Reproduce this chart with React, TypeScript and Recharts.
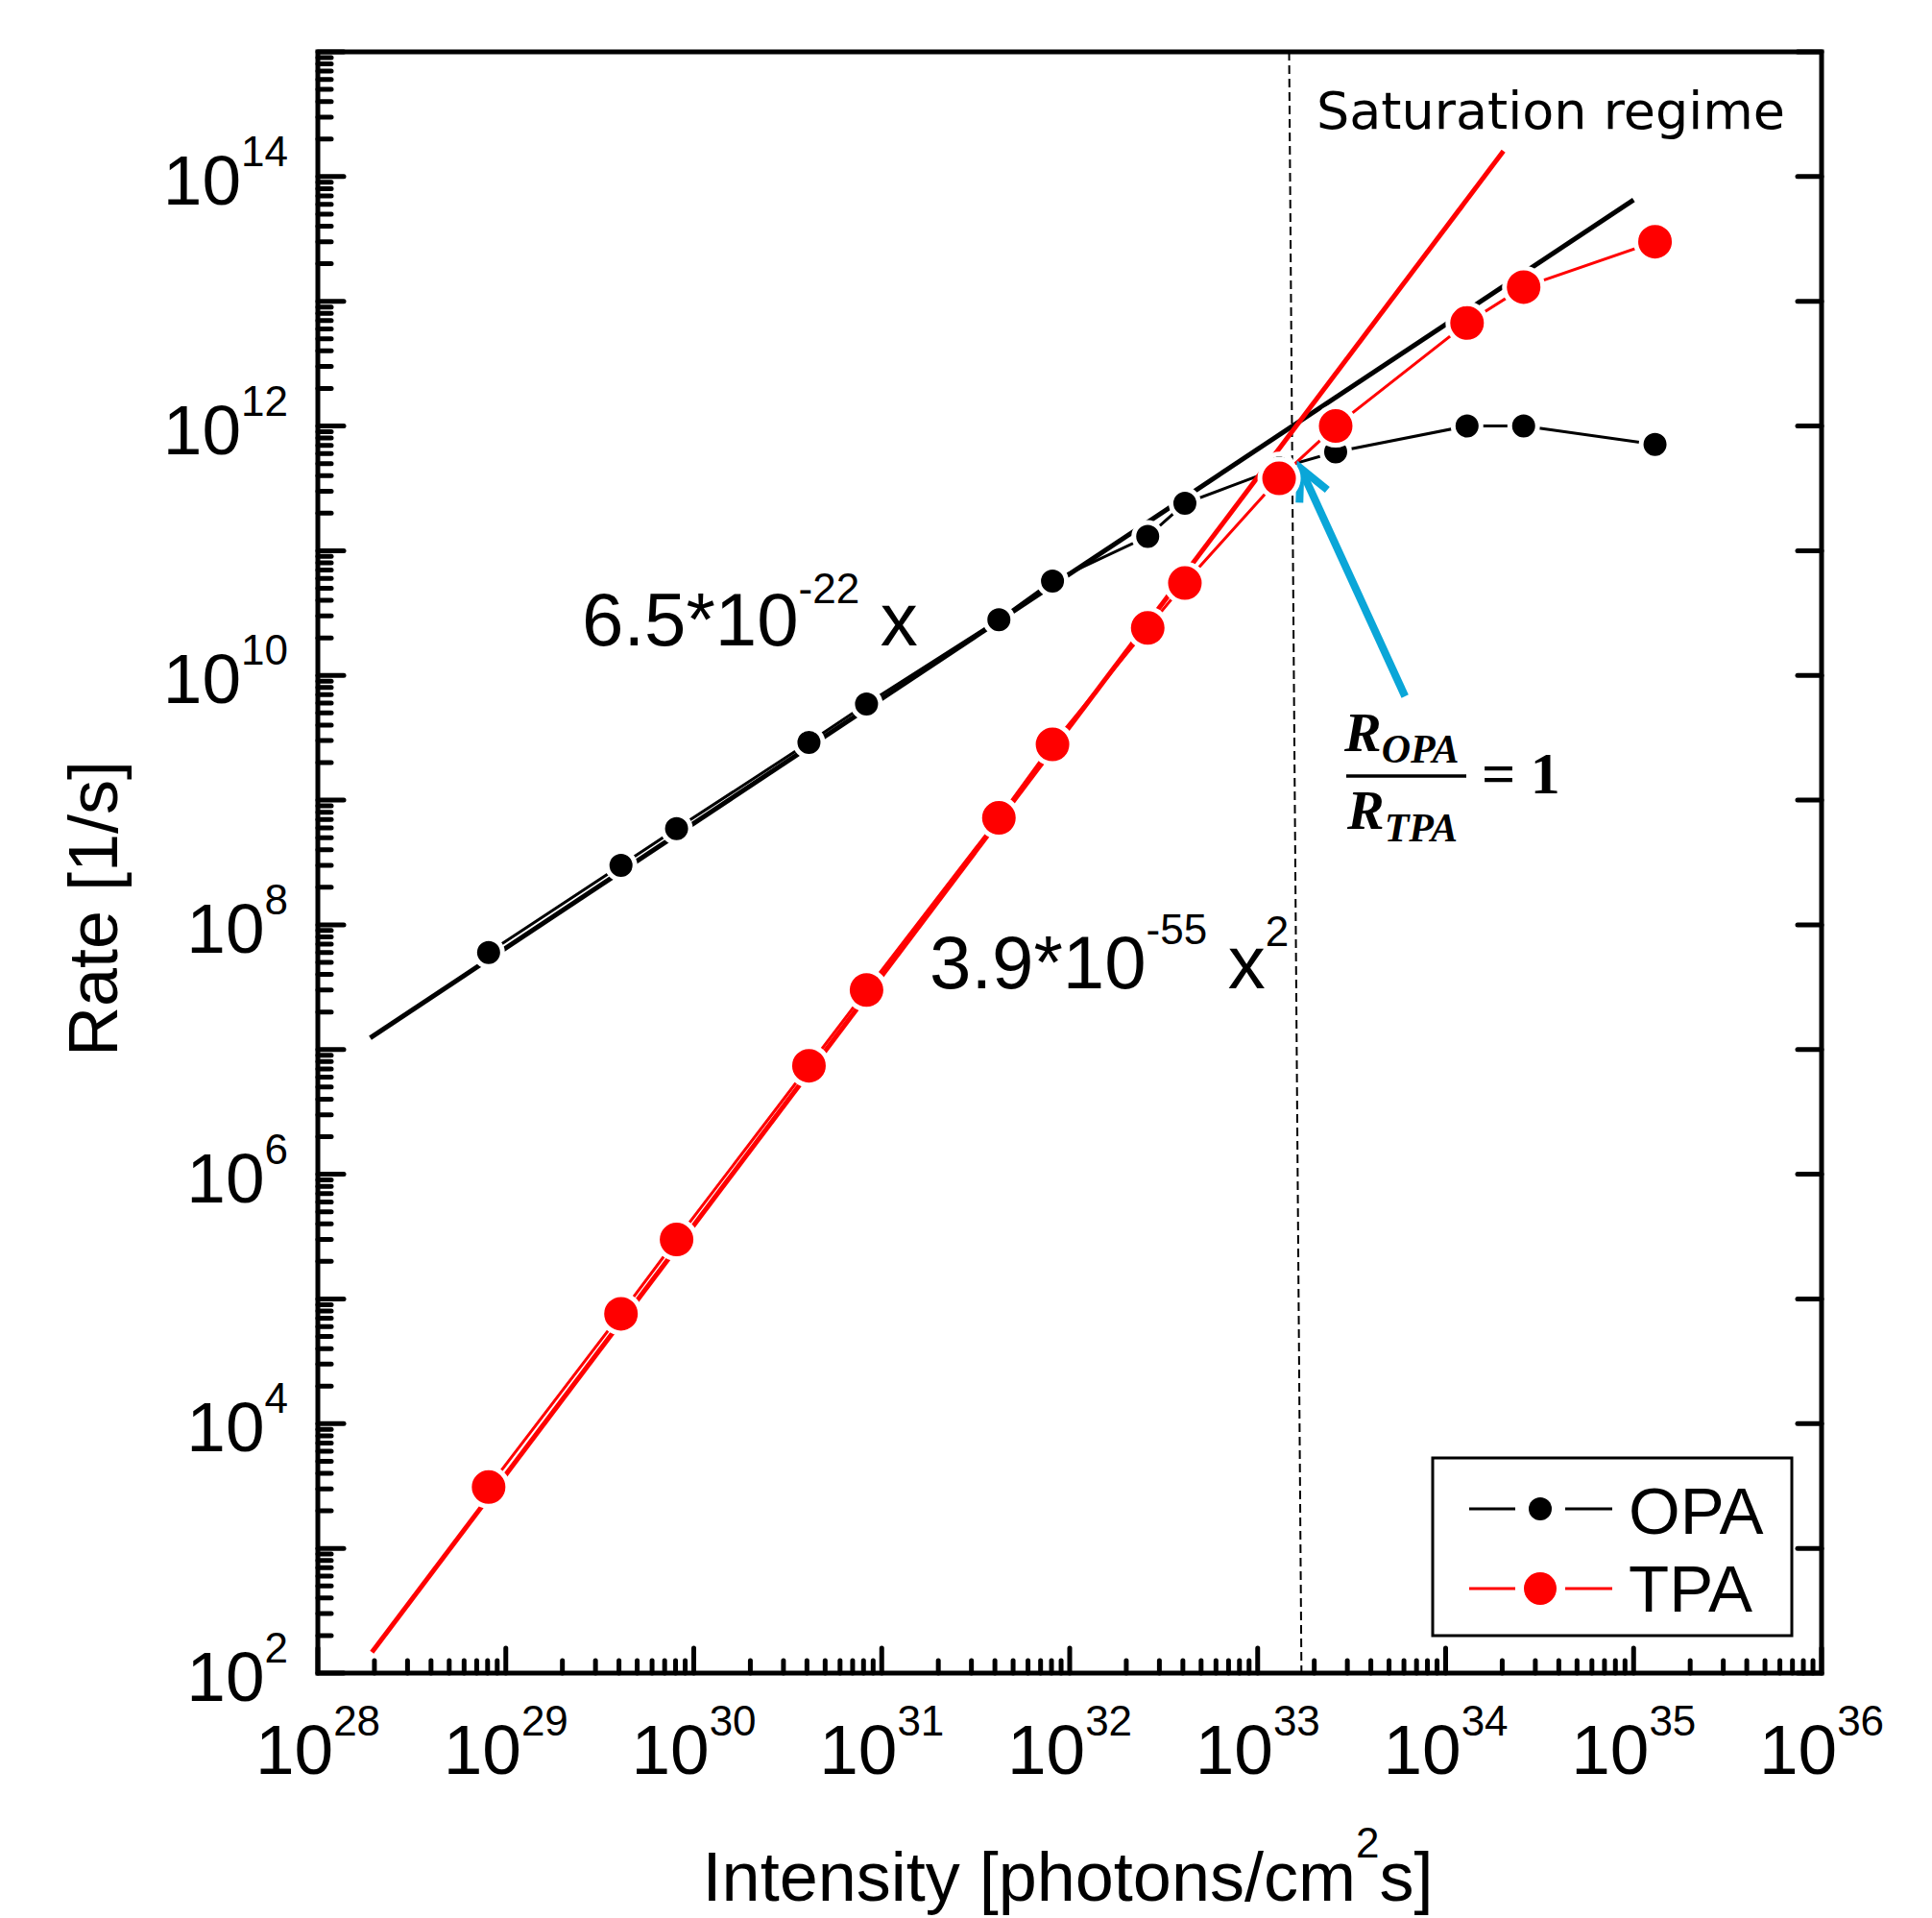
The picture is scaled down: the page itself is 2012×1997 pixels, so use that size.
import React from 'react';
import { ComposedChart, Line, XAxis, YAxis, ReferenceLine, ReferenceArea } from 'recharts';

// intensity [photons/cm^2 s] and rates [1/s]
const intensity = [8.1e28, 4.1e29, 8.1e29, 4.1e30, 8.3e30, 4.2e31, 8.1e31, 2.6e32, 4.1e32, 1.3e33, 2.6e33, 1.3e34, 2.6e34, 1.3e35];
const opaRate = [6.0e7, 3.0e8, 5.9e8, 2.9e9, 5.9e9, 2.8e10, 5.7e10, 1.3e11, 2.4e11, 4.6e11, 6.2e11, 1.0e12, 1.0e12, 7.1e11];
const tpaRate = [3.1e3, 7.6e4, 3.0e5, 7.4e6, 3.0e7, 7.2e8, 2.8e9, 2.4e10, 5.5e10, 3.8e11, 1.0e12, 6.7e12, 1.3e13, 3.0e13];

// fitted power laws (end points of the drawn lines)
const opaFitX = [1.9e28, 1.0e35];
const opaFitRate = [1.24e7, 6.5e13];
const tpaFitX = [1.94e28, 2.03e34];
const tpaFitRate = [1.47e2, 1.6e14];

// saturation boundary (dashed) and the R_OPA/R_TPA = 1 arrow
const saturationTop = { x: 1.47e33, y: 1e15 };
const saturationBottom = { x: 1.71e33, y: 1e2 };
const arrowTail = { x: 6.08e33, y: 6.8e9 };
const arrowTip = { x: 1.69e33, y: 4.6e11 };

const xMajor = [1e28, 1e29, 1e30, 1e31, 1e32, 1e33, 1e34, 1e35, 1e36];
const yMajor = [1e2, 1e3, 1e4, 1e5, 1e6, 1e7, 1e8, 1e9, 1e10, 1e11, 1e12, 1e13, 1e14, 1e15];
const yLabelled = [1e2, 1e4, 1e6, 1e8, 1e10, 1e12, 1e14];
const minorSteps = [2, 3, 4, 5, 6, 7, 8, 9];

const withMinor = (majors: number[]) =>
  [...majors, ...majors.slice(0, -1).flatMap((d) => minorSteps.map((m) => m * d))].sort((a, b) => a - b);

const xTicks = withMinor(xMajor);
const yTicks = withMinor(yMajor);

const opaData = intensity.map((x, i) => ({ x, y: opaRate[i] }));
const tpaData = intensity.map((x, i) => ({ x, y: tpaRate[i] }));
const opaFit = opaFitX.map((x, i) => ({ x, y: opaFitRate[i] }));
const tpaFit = tpaFitX.map((x, i) => ({ x, y: tpaFitRate[i] }));

const SANS = '"Liberation Sans", Arial, sans-serif';
const SERIF = '"Liberation Serif", "Times New Roman", serif';
const CYAN = '#0aa6d8';

const expOf = (v: number) => Math.round(Math.log10(v));

function BottomTick(props: any) {
  const { x, y, payload } = props;
  const v = payload.value;
  const major = xMajor.includes(v);
  return (
    <g>
      <line x1={x} x2={x} y1={y} y2={y - (major ? 26 : 13)} stroke="#000" strokeWidth={5} strokeLinecap="round" />
      {major && (
        <text x={x} y={y + 105} textAnchor="middle" fontFamily={SANS} fill="#000">
          <tspan fontSize={73}>10</tspan>
          <tspan fontSize={44} dy={-40}>{expOf(v)}</tspan>
        </text>
      )}
    </g>
  );
}

function LeftTick(props: any) {
  const { x, y, payload } = props;
  const v = payload.value;
  const major = yMajor.includes(v);
  return (
    <g>
      <line x1={x} x2={x + (major ? 27 : 14)} y1={y} y2={y} stroke="#000" strokeWidth={5} strokeLinecap="round" />
      {yLabelled.includes(v) && (
        <text x={x - 31} y={y + 29} textAnchor="end" fontFamily={SANS} fill="#000">
          <tspan fontSize={73}>10</tspan>
          <tspan fontSize={44} dy={-40}>{expOf(v)}</tspan>
        </text>
      )}
    </g>
  );
}

function TopTick(props: any) {
  const { x, y } = props;
  return <line x1={x} x2={x} y1={y} y2={y + 28} stroke="#000" strokeWidth={5} strokeLinecap="round" />;
}

function RightTick(props: any) {
  const { x, y } = props;
  return <line x1={x} x2={x - 25} y1={y} y2={y} stroke="#000" strokeWidth={5} strokeLinecap="round" />;
}

function ArrowShape(props: any) {
  const { x1, y1, x2, y2 } = props;
  const ang = Math.atan2(y1 - y2, x1 - x2);
  const len = 36;
  const spread = 0.46;
  const a = [x2 + len * Math.cos(ang - spread), y2 + len * Math.sin(ang - spread)];
  const b = [x2 + len * Math.cos(ang + spread), y2 + len * Math.sin(ang + spread)];
  return (
    <g>
      <line x1={x1} y1={y1} x2={x2} y2={y2} stroke={CYAN} strokeWidth={8} />
      <polyline
        points={`${a[0]},${a[1]} ${x2},${y2} ${b[0]},${b[1]}`}
        fill="none"
        stroke={CYAN}
        strokeWidth={8}
        strokeLinejoin="miter"
      />
    </g>
  );
}

function Annotations() {
  return (
    <svg width={2012} height={1997} style={{ position: 'absolute', left: 0, top: 0, pointerEvents: 'none' }}>
      <text x={1371} y={134} fontFamily='"DejaVu Sans", Verdana, sans-serif' fontSize={54} fill="#000">
        Saturation regime
      </text>

      <text x={606} y={672} fontFamily={SANS} fontSize={78} fill="#000">
        6.5*10
        <tspan fontSize={44} dy={-44}>-22</tspan>
        <tspan dy={44}> x</tspan>
      </text>

      <text x={968} y={1029} fontFamily={SANS} fontSize={78} fill="#000">
        3.9*10
        <tspan fontSize={44} dy={-46}>-55</tspan>
        <tspan dy={46}> x</tspan>
        <tspan fontSize={44} dy={-44}>2</tspan>
      </text>

      <g fontFamily={SERIF} fill="#000" fontWeight="bold">
        <text x={1400} y={782} fontStyle="italic" fontSize={58}>
          R<tspan fontSize={42} dy={12}>OPA</tspan>
        </text>
        <line x1={1402} x2={1527} y1={808} y2={808} stroke="#000" strokeWidth={3.5} />
        <text x={1403} y={863} fontStyle="italic" fontSize={58}>
          R<tspan fontSize={42} dy={13}>TPA</tspan>
        </text>
        <text x={1543} y={826} fontSize={62}>
          = 1
        </text>
      </g>

      <g>
        <rect x={1492} y={1518} width={374} height={185} fill="#fff" stroke="#000" strokeWidth={3} />
        <line x1={1530} x2={1578} y1={1571} y2={1571} stroke="#000" strokeWidth={3} />
        <line x1={1630} x2={1679} y1={1571} y2={1571} stroke="#000" strokeWidth={3} />
        <circle cx={1604} cy={1571} r={12} fill="#000" />
        <text x={1696} y={1597} fontFamily={SANS} fontSize={69} fill="#000">OPA</text>
        <line x1={1530} x2={1578} y1={1654} y2={1654} stroke="#ff0000" strokeWidth={3} />
        <line x1={1630} x2={1679} y1={1654} y2={1654} stroke="#ff0000" strokeWidth={3} />
        <circle cx={1604} cy={1654} r={17} fill="#ff0000" />
        <text x={1696} y={1678} fontFamily={SANS} fontSize={69} fill="#000">TPA</text>
      </g>

      <text
        x={122}
        y={946}
        transform="rotate(-90 122 946)"
        textAnchor="middle"
        fontFamily={SANS}
        fontSize={72}
        fill="#000"
      >
        Rate [1/s]
      </text>
      <text x={1112} y={1979} textAnchor="middle" fontFamily={SANS} fontSize={72} fill="#000">
        Intensity [photons/cm<tspan fontSize={44} dy={-45}>2</tspan>
        <tspan dy={45}>s]</tspan>
      </text>
    </svg>
  );
}

export default function App() {
  return (
    <div style={{ position: 'absolute', left: 0, top: 0, width: 2012, height: 1997, background: '#fff' }}>
      <ComposedChart width={2012} height={1997} margin={{ top: 34, right: 95, bottom: 155, left: 251 }}>
        <XAxis
          dataKey="x"
          type="number"
          scale="log"
          domain={[1e28, 1e36]}
          allowDataOverflow
          ticks={xTicks}
          interval={0}
          tickSize={0}
          tickMargin={0}
          tickLine={false}
          axisLine={false}
          height={100}
          tick={(p: any) => <BottomTick {...p} />}
        />
        <XAxis
          xAxisId="top"
          orientation="top"
          type="number"
          scale="log"
          domain={[1e28, 1e36]}
          allowDataOverflow
          ticks={xMajor}
          interval={0}
          tickSize={0}
          tickMargin={0}
          tickLine={false}
          axisLine={false}
          height={20}
          tick={(p: any) => <TopTick {...p} />}
        />
        <YAxis
          type="number"
          scale="log"
          domain={[1e2, 1e15]}
          allowDataOverflow
          ticks={yTicks}
          interval={0}
          tickSize={0}
          tickMargin={0}
          tickLine={false}
          axisLine={false}
          width={80}
          tick={(p: any) => <LeftTick {...p} />}
        />
        <YAxis
          yAxisId="right"
          orientation="right"
          type="number"
          scale="log"
          domain={[1e2, 1e15]}
          allowDataOverflow
          ticks={yMajor}
          interval={0}
          tickSize={0}
          tickMargin={0}
          tickLine={false}
          axisLine={false}
          width={20}
          tick={(p: any) => <RightTick {...p} />}
        />

        <ReferenceLine
          segment={[saturationTop, saturationBottom]}
          stroke="#000"
          strokeWidth={2}
          strokeDasharray="9 5"
        />

        <Line
          data={opaData}
          dataKey="y"
          stroke="#000"
          strokeWidth={3}
          dot={{ r: 14.5, fill: '#000', stroke: '#fff', strokeWidth: 5 }}
          activeDot={false}
          isAnimationActive={false}
        />
        <Line
          data={tpaData}
          dataKey="y"
          stroke="#ff0000"
          strokeWidth={3}
          dot={{ r: 20, fill: '#ff0000', stroke: '#fff', strokeWidth: 5 }}
          activeDot={false}
          isAnimationActive={false}
        />
        <Line data={opaFit} dataKey="y" stroke="#000" strokeWidth={5} dot={false} activeDot={false} isAnimationActive={false} />
        <Line data={tpaFit} dataKey="y" stroke="#ff0000" strokeWidth={5} dot={false} activeDot={false} isAnimationActive={false} />

        <ReferenceLine segment={[arrowTail, arrowTip]} shape={(p: any) => <ArrowShape {...p} />} />

        <ReferenceArea x1={1e28} x2={1e36} y1={1e2} y2={1e15} fill="none" fillOpacity={0} stroke="#000" strokeWidth={5} />
      </ComposedChart>
      <Annotations />
    </div>
  );
}
